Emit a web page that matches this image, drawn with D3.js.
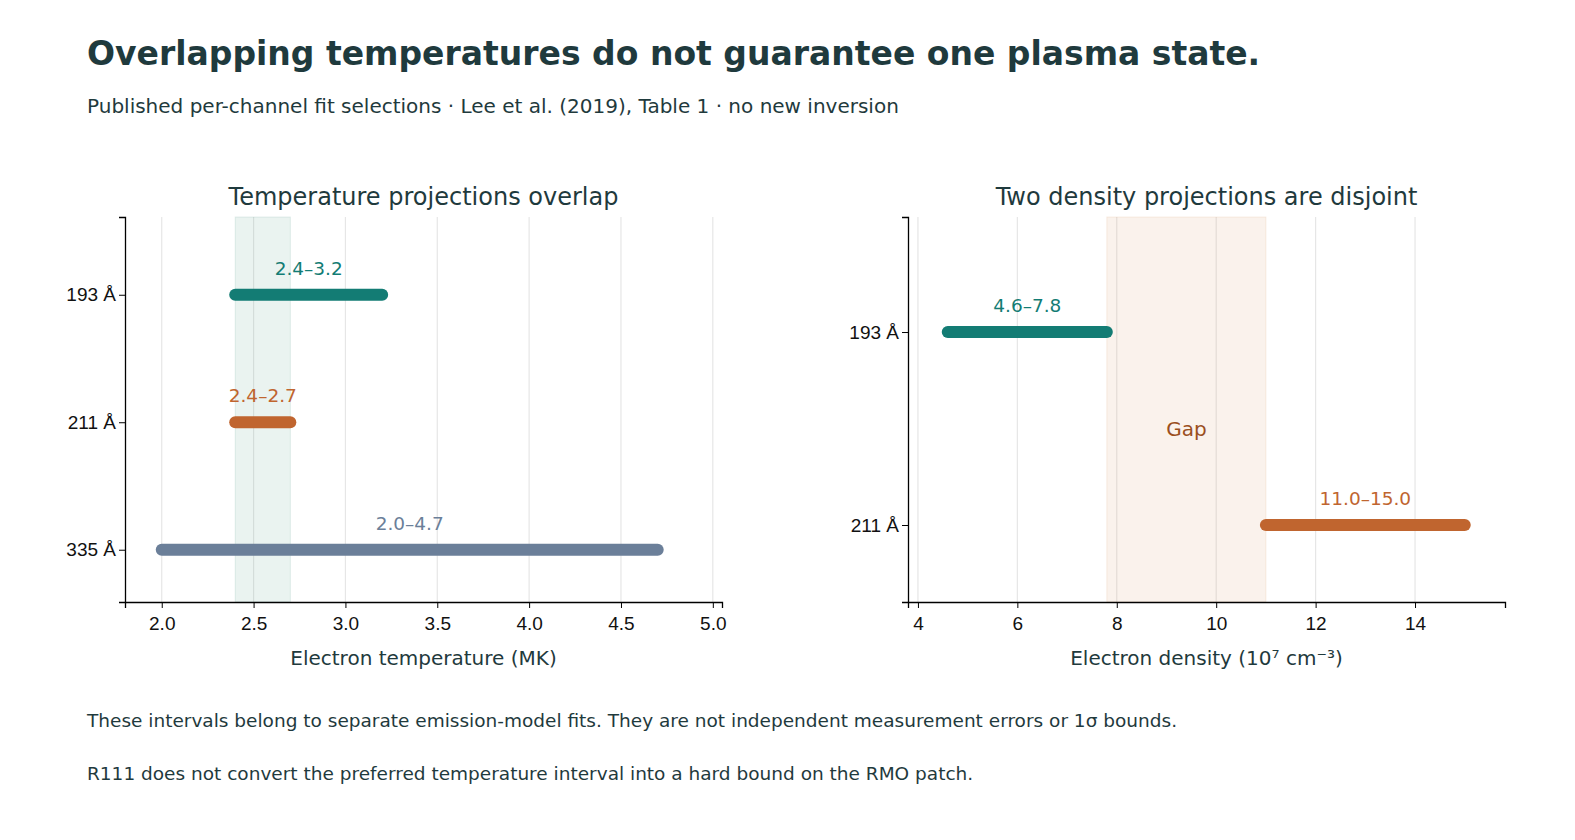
<!DOCTYPE html>
<html><head><meta charset="utf-8">
<script src="https://cdn.jsdelivr.net/npm/d3@7"></script>
<style>body{margin:0;background:#fff;font-family:"DejaVu Sans",sans-serif}</style>
</head><body><div id="chart"></div>
<script>
// data
const tempChannels = ["193 Å", "211 Å", "335 Å"];
const tempLo = [2.4, 2.4, 2.0];
const tempHi = [3.2, 2.7, 4.7];
const tempLabels = ["2.4–3.2", "2.4–2.7", "2.0–4.7"];
const tempTicks = [2.0, 2.5, 3.0, 3.5, 4.0, 4.5, 5.0];
const tempBand = [2.4, 2.7];

const densChannels = ["193 Å", "211 Å"];
const densLo = [4.6, 11.0];
const densHi = [7.8, 15.0];
const densLabels = ["4.6–7.8", "11.0–15.0"];
const densTicks = [4, 6, 8, 10, 12, 14];
const densGap = [7.8, 11.0];

const colors = ["#137c74", "#c0652f", "#6b7f99"];
const ink = "#1f3a3d";

const svg = d3.select("#chart").append("svg").attr("width", 1575).attr("height", 840);

svg.append("text").attr("x", 87).attr("y", 65).attr("font-size", 33).attr("font-weight", "bold")
  .attr("fill", ink).text("Overlapping temperatures do not guarantee one plasma state.");
svg.append("text").attr("x", 87).attr("y", 113).attr("font-size", 20).attr("fill", ink)
  .text("Published per-channel fit selections · Lee et al. (2019), Table 1 · no new inversion");
svg.append("text").attr("x", 87).attr("y", 727).attr("font-size", 18.5).attr("fill", ink)
  .text("These intervals belong to separate emission-model fits. They are not independent measurement errors or 1σ bounds.");
svg.append("text").attr("x", 87).attr("y", 780).attr("font-size", 18.5).attr("fill", ink)
  .text("R111 does not convert the preferred temperature interval into a hard bound on the RMO patch.");

function panel(opt) {
  const x = d3.scaleLinear().domain(opt.xdom).range([opt.left, opt.right]);
  const y = d3.scaleLinear().domain(opt.ydom).range([217, 602]);
  const g = svg.append("g");
  // grid
  g.selectAll(".grid").data(opt.ticks).enter().append("line")
    .attr("x1", d => x(d)).attr("x2", d => x(d)).attr("y1", 217).attr("y2", 602)
    .attr("stroke", "#e6e6e6").attr("stroke-width", 1.2);
  // band
  g.append("rect").attr("x", x(opt.band[0])).attr("width", x(opt.band[1]) - x(opt.band[0]))
    .attr("y", 217).attr("height", 385).attr("fill", opt.bandColor).attr("fill-opacity", 0.12)
    .attr("stroke", opt.bandColor).attr("stroke-opacity", 0.15);
  // axes
  const xa = g.append("g").attr("transform", "translate(0,602)")
    .call(d3.axisBottom(x).tickValues(opt.ticks).tickFormat(opt.fmt).tickSizeOuter(0).tickSize(6));
  xa.select(".domain").attr("stroke-width", 1.3);
  xa.selectAll("text").attr("font-size", 19).attr("fill", "#111").attr("dy", "1em");
  const ya = g.append("g").attr("transform", `translate(${opt.left},0)`)
    .call(d3.axisLeft(y).tickValues(opt.channels.map((d, i) => i)).tickFormat(i => opt.channels[i]).tickSizeOuter(0).tickSize(6));
  ya.select(".domain").attr("stroke-width", 1.3);
  ya.selectAll("text").attr("font-size", 19).attr("fill", "#111");
  // bars
  g.selectAll(".bar").data(opt.channels).enter().append("line")
    .attr("x1", (d, i) => x(opt.lo[i])).attr("x2", (d, i) => x(opt.hi[i]))
    .attr("y1", (d, i) => y(i)).attr("y2", (d, i) => y(i))
    .attr("stroke", (d, i) => colors[i]).attr("stroke-width", 12).attr("stroke-linecap", "round");
  g.selectAll(".lab").data(opt.labels).enter().append("text")
    .attr("x", (d, i) => x((opt.lo[i] + opt.hi[i]) / 2)).attr("y", (d, i) => y(i) - 20)
    .attr("text-anchor", "middle").attr("font-size", 18.5).attr("fill", (d, i) => colors[i]).text(d => d);
  svg.append("text").attr("x", (opt.left + opt.right) / 2).attr("y", 205).attr("text-anchor", "middle")
    .attr("font-size", 24).attr("fill", ink).text(opt.title);
  svg.append("text").attr("x", (opt.left + opt.right) / 2).attr("y", 665).attr("text-anchor", "middle")
    .attr("font-size", 20).attr("fill", ink).text(opt.xlabel);
  return { x, y, g };
}

panel({ left: 125, right: 722, xdom: [1.8, 5.05], ydom: [-0.61, 2.41], ticks: tempTicks,
  fmt: d3.format(".1f"), channels: tempChannels, lo: tempLo, hi: tempHi, labels: tempLabels,
  band: tempBand, bandColor: "#4f9a83", title: "Temperature projections overlap",
  xlabel: "Electron temperature (MK)" });

const p2 = panel({ left: 908, right: 1505, xdom: [3.8, 15.81], ydom: [-0.596, 1.399], ticks: densTicks,
  fmt: d3.format("d"), channels: densChannels, lo: densLo, hi: densHi, labels: densLabels,
  band: densGap, bandColor: "#d9915f", title: "Two density projections are disjoint",
  xlabel: "Electron density (10⁷ cm⁻³)" });
p2.g.append("text").attr("x", p2.x((densGap[0] + densGap[1]) / 2)).attr("y", p2.y(0.5) + 7)
  .attr("text-anchor", "middle").attr("font-size", 20).attr("fill", "#9a4f1e").text("Gap");
</script></body></html>
